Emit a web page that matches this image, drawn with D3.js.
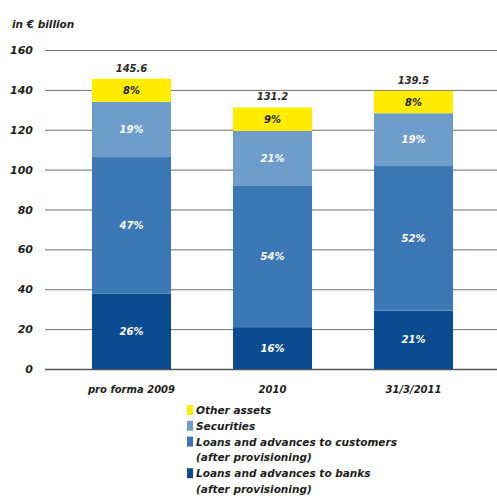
<!DOCTYPE html>
<html>
<head>
<meta charset="utf-8">
<script src="https://cdn.jsdelivr.net/npm/d3@7"></script>
<style>
  body { margin: 0; background: #fff; }
  svg { display: block; }
  text { font-family: "DejaVu Sans", sans-serif; font-weight: 700; font-style: italic; fill: #1d1d1b; }
</style>
</head>
<body>
<svg id="chart" width="497" height="496"></svg>
<script>
// Total assets by category, in € billion
const categories = ["pro forma 2009", "2010", "31/3/2011"];
const totals = [145.6, 131.2, 139.5];
const banks = [37.9, 21.0, 29.3];
const customers = [68.4, 70.8, 72.5];
const securities = [27.7, 27.6, 26.5];
const otherAssets = [11.6, 11.8, 11.2];
const yTicks = [0, 20, 40, 60, 80, 100, 120, 140, 160];

const seriesKeys = ["banks", "customers", "securities", "other"];
const seriesColors = {
  banks: "#0b4c91",
  customers: "#3c78b6",
  securities: "#6e9ccb",
  other: "#ffec00"
};
const labelColors = { banks: "#fff", customers: "#fff", securities: "#fff", other: "#1d1d1b" };
const legendItems = [
  { key: "other", lines: ["Other assets"] },
  { key: "securities", lines: ["Securities"] },
  { key: "customers", lines: ["Loans and advances to customers", "(after provisioning)"] },
  { key: "banks", lines: ["Loans and advances to banks", "(after provisioning)"] }
];

const rows = categories.map((c, i) => ({
  category: c,
  total: totals[i],
  banks: banks[i],
  customers: customers[i],
  securities: securities[i],
  other: otherAssets[i]
}));

const svg = d3.select("#chart");
const plot = { left: 45, right: 497, top: 50, bottom: 369 };

// band scale: 79px bars on a 141px step, first bar starting at x = 92
const x = d3.scaleBand()
  .domain(categories)
  .range([61, 61 + 3 * 141])
  .paddingInner(62 / 141)
  .paddingOuter(31 / 141);
const xPos = c => x(c);
const bandW = x.bandwidth();

const y = d3.scaleLinear().domain([0, 160]).range([plot.bottom, plot.top]);

// unit caption
svg.append("text")
  .attr("x", 12).attr("y", 28)
  .style("font-size", "10.5px")
  .text("in € billion");

// gridlines and y labels
const yAxis = d3.axisLeft(y)
  .tickValues(yTicks)
  .tickSize(-(plot.right - plot.left))
  .tickPadding(12)
  .tickFormat(d3.format("d"));

const gy = svg.append("g")
  .attr("transform", `translate(${plot.left},0)`)
  .call(yAxis);
gy.select(".domain").remove();
gy.selectAll(".tick line")
  .attr("stroke", "#6f6f6f")
  .attr("stroke-width", 1);
gy.selectAll(".tick").filter(d => d === 0).select("line")
  .attr("stroke", "#555").attr("stroke-width", 1.5);
gy.selectAll(".tick text")
  .style("font-size", "11px")
  .style("font-family", "'DejaVu Sans', sans-serif")
  .style("font-weight", 700)
  .style("font-style", "italic")
  .attr("fill", "#1d1d1b");

// stacked bars
const stack = d3.stack().keys(seriesKeys);
const stacked = stack(rows);

const layers = svg.append("g").selectAll("g")
  .data(stacked)
  .join("g")
  .attr("fill", d => seriesColors[d.key]);

layers.selectAll("rect")
  .data(d => d.map(s => ({ s, key: d.key })))
  .join("rect")
  .attr("x", d => xPos(d.s.data.category))
  .attr("width", bandW)
  .attr("y", d => y(d.s[1]))
  .attr("height", d => y(d.s[0]) - y(d.s[1]));

// percentage labels in each segment
layers.selectAll("text")
  .data(d => d.map(s => ({ s, key: d.key })))
  .join("text")
  .attr("x", d => xPos(d.s.data.category) + bandW / 2)
  .attr("y", d => (y(d.s[0]) + y(d.s[1])) / 2)
  .attr("dy", "0.36em")
  .attr("text-anchor", "middle")
  .style("font-size", "10px")
  .style("fill", d => labelColors[d.key])
  .text(d => Math.round((d.s[1] - d.s[0]) / d.s.data.total * 100) + "%");

// totals above the bars
svg.append("g").selectAll("text")
  .data(rows)
  .join("text")
  .attr("x", d => xPos(d.category) + bandW / 2)
  .attr("y", d => y(d.total) - 7)
  .attr("text-anchor", "middle")
  .style("font-size", "10px")
  .style("fill", "#2b2b2b")
  .text(d => d3.format(".1f")(d.total));

// category labels
svg.append("g").selectAll("text")
  .data(categories)
  .join("text")
  .attr("x", d => xPos(d) + bandW / 2)
  .attr("y", 393)
  .attr("text-anchor", "middle")
  .style("font-size", "10px")
  .text(d => d);

// legend
const legend = svg.append("g").attr("transform", "translate(187,404)");
const lineH = 15.8;
let lineIdx = 0;
legendItems.forEach(item => {
  const top = lineIdx * lineH;
  legend.append("rect")
    .attr("x", 0).attr("y", top + 1)
    .attr("width", 6).attr("height", 10)
    .attr("fill", seriesColors[item.key]);
  item.lines.forEach((ln, j) => {
    legend.append("text")
      .attr("x", 9)
      .attr("y", top + j * lineH + 10)
      .style("font-size", "10.5px")
      .text(ln);
  });
  lineIdx += item.lines.length;
});
</script>
</body>
</html>
